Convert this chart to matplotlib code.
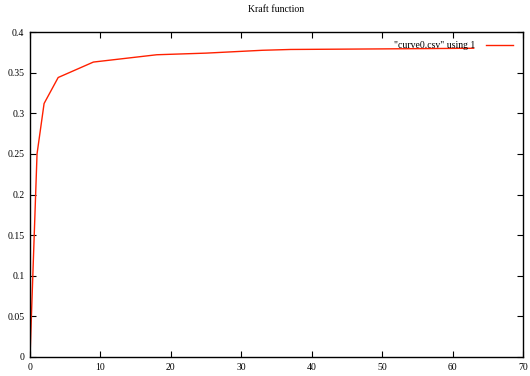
import matplotlib
matplotlib.use("Agg")
import matplotlib.pyplot as plt

# curve0.csv values (row index -> value)
row_idx = [0, 1, 2, 4, 9, 18, 25, 33, 37, 50, 63]
kraft = [0.0, 0.250, 0.312, 0.344, 0.363, 0.372, 0.374, 0.3775, 0.3785, 0.3792, 0.380]

x_ticks = [0, 10, 20, 30, 40, 50, 60, 70]
y_ticks = [0, 0.05, 0.1, 0.15, 0.2, 0.25, 0.3, 0.35, 0.4]
y_labels = ["0", "0.05", "0.1", "0.15", "0.2", "0.25", "0.3", "0.35", "0.4"]

plt.rcParams['font.family'] = ['Liberation Serif', 'DejaVu Serif']
plt.rcParams['font.size'] = 7

fig = plt.figure(figsize=(5.30, 3.76), dpi=100)
ax = fig.add_axes([30 / 530, 1 - 357 / 376, 493 / 530, 325 / 376])

ax.plot(row_idx, kraft, color='#ff2000', lw=1.0, label='"curve0.csv" using 1')

ax.set_xlim(0, 70)
ax.set_ylim(0, 0.4)
ax.set_xticks(x_ticks)
ax.set_yticks(y_ticks)
ax.set_yticklabels(y_labels)
ax.tick_params(direction='in', length=4, width=0.8, top=True, right=True, pad=4)
for s in ax.spines.values():
    s.set_linewidth(1.0)

# title centred over the plot area, like gnuplot does
ax.text(0.5, 1 + 22 / 325, "Kraft function", transform=ax.transAxes,
        ha='center', va='center', fontsize=7)

ax.legend(loc='upper right', frameon=False, markerfirst=False, handlelength=2.8,
          handletextpad=1.1, borderpad=0, borderaxespad=0,
          bbox_to_anchor=(0.980, 0.972))

fig.savefig("out.png", dpi=100)
